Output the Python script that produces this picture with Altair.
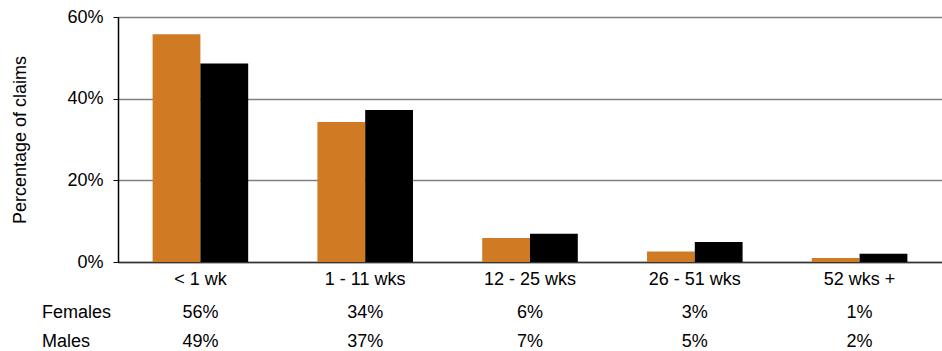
import altair as alt
import pandas as pd

# Duration of claims, share of claims by sex (%)
categories = ["< 1 wk", "1 - 11 wks", "12 - 25 wks", "26 - 51 wks", "52 wks +"]
females = [55.8, 34.3, 5.9, 2.6, 1.0]
males = [48.6, 37.2, 6.9, 4.9, 2.0]
groups = ["Females", "Males"]
bar_colors = ["#D07A24", "#000000"]

FONT = "Liberation Sans"
FS = 18

rows = []
for cat, f, m in zip(categories, females, males):
    rows.append({"category": cat, "sex": "Females", "value": f, "label": f"{int(f + 0.5)}%"})
    rows.append({"category": cat, "sex": "Males", "value": m, "label": f"{int(m + 0.5)}%"})
df = pd.DataFrame(rows)

x_enc = alt.X(
    "category:N",
    sort=categories,
    scale=alt.Scale(paddingInner=0.42, paddingOuter=0.21),
    axis=alt.Axis(
        title=None,
        labelAngle=0,
        labelFont=FONT,
        labelFontSize=FS,
        labelColor="#000000",
        labelBaseline="alphabetic",
        labelPadding=22,
        ticks=False,
        tickSize=0,
        domainColor="#333333",
        domainWidth=1.5,
        grid=False,
    ),
)

bars = alt.Chart(df).mark_bar().encode(
    x=x_enc,
    xOffset=alt.XOffset("sex:N", sort=groups, scale=alt.Scale(paddingInner=0, paddingOuter=0)),
    y=alt.Y(
        "value:Q",
        scale=alt.Scale(domain=[0, 60], nice=False),
        axis=alt.Axis(
            values=[0, 20, 40, 60],
            labelExpr="datum.value + '%'",
            title="Percentage of claims",
            titleFont=FONT,
            titleFontSize=FS,
            titleFontWeight="normal",
            titleColor="#000000",
            titleAngle=-90,
            titleX=-98,
            titleY=122.5,
            titleAlign="center",
            titleBaseline="middle",
            labelFont=FONT,
            labelFontSize=FS,
            labelColor="#000000",
            labelPadding=10,
            tickSize=5,
            tickColor="#000000",
            domainColor="#000000",
            domainWidth=1.5,
            grid=True,
            gridColor="#808080",
            gridWidth=1.5,
        ),
    ),
    color=alt.Color("sex:N", scale=alt.Scale(domain=groups, range=bar_colors), legend=None),
)

# Table rows under the axis: baseline position of each row (plot pixels)
row_y = {"Females": 300.5, "Males": 329.5}

layers = [bars]
for sex in groups:
    sub = df[df["sex"] == sex]
    layers.append(
        alt.Chart(sub).mark_text(
            font=FONT, fontSize=FS, color="#000000", align="center", baseline="alphabetic"
        ).encode(
            x=alt.X("category:N", sort=categories),
            y=alt.value(row_y[sex]),
            text="label:N",
        )
    )
    layers.append(
        alt.Chart(pd.DataFrame({"sex": [sex]})).mark_text(
            font=FONT, fontSize=FS, color="#000000", align="left", baseline="alphabetic"
        ).encode(
            x=alt.value(-76),
            y=alt.value(row_y[sex]),
            text="sex:N",
        )
    )

chart = (
    alt.layer(*layers)
    .properties(
        width=824,
        height=245,
        padding={"left": 118, "top": 17, "right": 0, "bottom": 89},
        autosize=alt.AutoSizeParams(type="none"),
        background="#ffffff",
    )
    .configure_view(stroke=None)
)

chart.save("out.html", embed_options={"renderer": "svg", "actions": False})
